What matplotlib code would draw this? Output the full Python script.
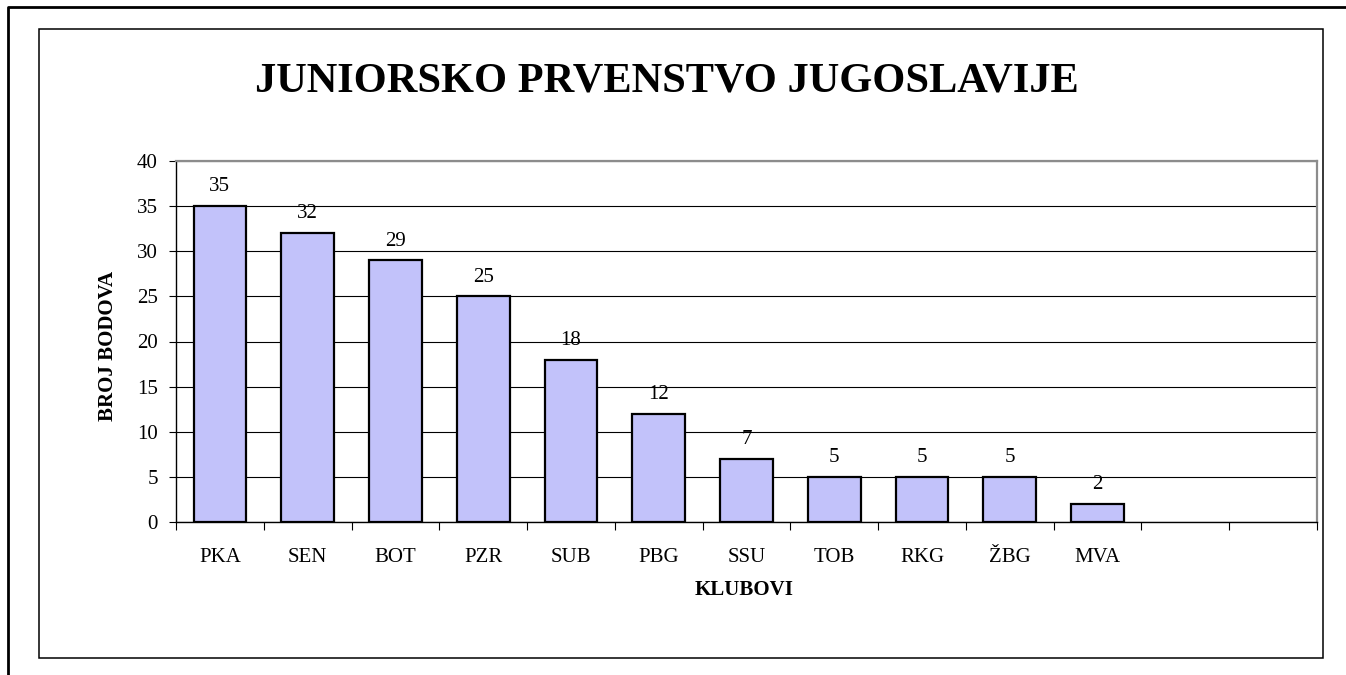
import matplotlib
matplotlib.use("Agg")
import matplotlib.pyplot as plt
from matplotlib.lines import Line2D
from matplotlib.patches import Rectangle
import numpy as np

# data
klubovi = ["PKA", "SEN", "BOT", "PZR", "SUB", "PBG", "SSU", "TOB", "RKG", "ŽBG", "MVA", "", ""]
bodovi = [35, 32, 29, 25, 18, 12, 7, 5, 5, 5, 2]
y_ticks = [0, 5, 10, 15, 20, 25, 30, 35, 40]

plt.rcParams["font.family"] = ["Liberation Serif", "DejaVu Serif"]

W, H = 1346, 675
fig = plt.figure(figsize=(W / 100, H / 100), dpi=100)

# frames around the chart
fig.add_artist(Line2D([8 / W, 8 / W, 1.0], [0.0, 1 - 7 / H, 1 - 7 / H],
                      transform=fig.transFigure, color="k", lw=2.0))
fig.add_artist(Rectangle((39 / W, 1 - 658 / H), (1323 - 39) / W, (658 - 29) / H,
                         transform=fig.transFigure, fill=False, ec="k", lw=1.1))

ax = fig.add_axes([176 / W, 1 - 522 / H, (1317 - 176) / W, (522 - 161) / H])

x = np.arange(len(bodovi))
ax.bar(x, bodovi, width=0.6, color="#c2c2fa", edgecolor="k", linewidth=1.6, zorder=3)
for xi, v in zip(x, bodovi):
    ax.annotate(str(v), (xi, v), xytext=(0, 7), textcoords="offset points",
                ha="center", va="bottom", fontsize=15)

ax.set_xlim(-0.5, len(klubovi) - 0.5)
ax.set_ylim(0, 40)
ax.set_yticks(y_ticks)
ax.yaxis.grid(True, color="k", lw=0.8, zorder=0)
ax.set_axisbelow(True)

# ticks between categories, labels at the centres
ax.set_xticks(np.arange(len(klubovi) + 1) - 0.5)
ax.set_xticklabels([])
ax.set_xticks(np.arange(len(klubovi)), minor=True)
ax.set_xticklabels(klubovi, minor=True)
ax.tick_params(axis="x", which="major", direction="out", length=6, width=0.8)
ax.tick_params(axis="x", which="minor", length=0, pad=19, labelsize=15)
ax.tick_params(axis="y", direction="out", length=5, width=0.8, pad=8, labelsize=15)

for s in ["top", "right"]:
    ax.spines[s].set_color("#8c8c8c")
    ax.spines[s].set_linewidth(1.6)
for s in ["left", "bottom"]:
    ax.spines[s].set_color("k")
    ax.spines[s].set_linewidth(1.0)

fig.text(667 / W, 1 - 82 / H, "JUNIORSKO PRVENSTVO JUGOSLAVIJE",
         ha="center", va="center", fontsize=30.5, fontweight="bold")
fig.text(744 / W, 1 - 590 / H, "KLUBOVI", ha="center", va="center",
         fontsize=15, fontweight="bold")
fig.text(108 / W, 1 - 346 / H, "BROJ BODOVA", ha="center", va="center",
         rotation=90, fontsize=15, fontweight="bold")

fig.savefig("out.png", dpi=100)
